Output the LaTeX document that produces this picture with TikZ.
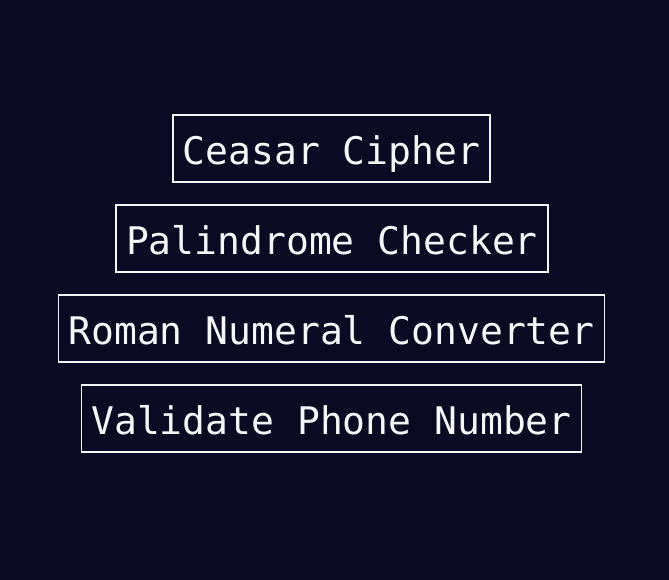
\documentclass[tikz,border=0pt]{standalone}
\usepackage{fontspec}
\setmonofont{DejaVu Sans Mono}
\definecolor{bgc}{HTML}{0A0A23}
\definecolor{fgc}{HTML}{F5F6F7}
\begin{document}
\begin{tikzpicture}[x=1pt,y=1pt,
  btn/.style={draw=fgc, line width=1.5pt, text=fgc, font=\ttfamily\fontsize{38}{40}\selectfont,
    inner xsep=10pt, inner ysep=0pt, minimum height=67pt, text height=31.5pt, text depth=0pt}]
\fill[bgc] (0,0) rectangle (669,580);
\useasboundingbox (0,0) rectangle (669,580);
\node[btn] (c) at (331.5,431.5) {Ceasar Cipher};
\node[btn] (p) at (332,341.5) {Palindrome Checker};
\node[btn] (r) at (331.5,251.5) {Roman Numeral Converter};
\node[btn] (v) at (331.5,161.5) {Validate Phone Number};
\end{tikzpicture}
\end{document}
